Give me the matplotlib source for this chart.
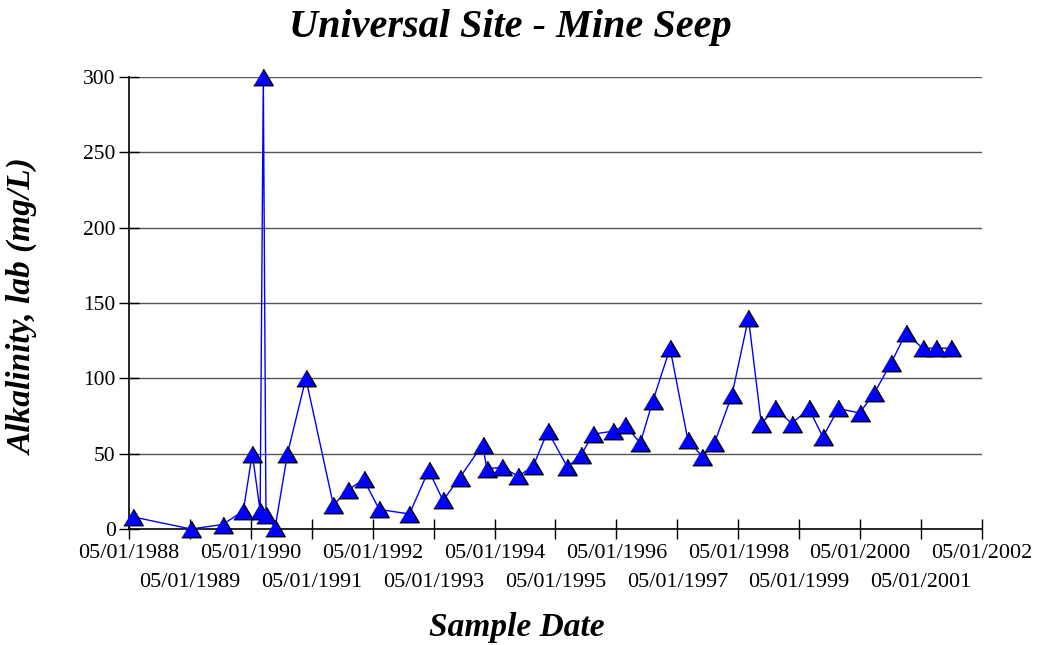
import numpy as np
import pandas as pd
import matplotlib
matplotlib.use('Agg')
import matplotlib.pyplot as plt

# sample dates and lab alkalinity (mg/L)
sample_dates = ['1988-05-27', '1989-05-08', '1989-11-14', '1990-03-17', '1990-05-10',
                '1990-06-26', '1990-07-15', '1990-07-31', '1990-09-24', '1990-12-07',
                '1991-03-27', '1991-09-08', '1991-12-06', '1992-03-07', '1992-06-09',
                '1992-12-07', '1993-04-01', '1993-06-26', '1993-10-04', '1994-02-18',
                '1994-03-16', '1994-06-17', '1994-09-21', '1994-12-20', '1995-03-16',
                '1995-07-12', '1995-09-30', '1995-12-14', '1996-04-13', '1996-06-22',
                '1996-09-20', '1996-12-05', '1997-03-18', '1997-07-03', '1997-09-28',
                '1997-12-09', '1998-03-24', '1998-07-01', '1998-09-16', '1998-12-08',
                '1999-03-18', '1999-06-28', '1999-09-20', '1999-12-22', '2000-04-27',
                '2000-07-23', '2000-11-01', '2001-01-30', '2001-05-10', '2001-07-31',
                '2001-10-28']
alkalinity = [8, 0, 3, 12, 50, 12, 300, 9, 1, 50,
              100, 16, 26, 33, 13, 10, 39, 19, 34, 56,
              40, 41, 35, 42, 65, 41, 49, 63, 65, 69,
              57, 85, 120, 59, 48, 57, 89, 140, 70, 80,
              70, 80, 61, 80, 77, 90, 110, 130, 120, 120,
              120]
upper_years = list(range(1988, 2003, 2))   # first row of date labels
lower_years = list(range(1989, 2002, 2))   # second row
y_ticks = [0, 50, 100, 150, 200, 250, 300]

plt.rcParams['font.family'] = ['Liberation Serif', 'DejaVu Serif']

dates = pd.to_datetime(sample_dates)
upper_dates = pd.to_datetime(['%d-05-01' % y for y in upper_years])
lower_dates = pd.to_datetime(['%d-05-01' % y for y in lower_years])

fig = plt.figure(figsize=(10.37, 6.45), dpi=100)
ax = fig.add_axes([0.1244, 0.1798, 0.8226, 0.7008])

tri = [(-1, -0.85), (1, -0.85), (0, 0.85)]
ax.plot(dates, alkalinity, color='#0000ff', lw=1, marker=tri, markersize=14,
        markerfacecolor='#0000ff', markeredgecolor='black', markeredgewidth=1,
        clip_on=False, zorder=3)

ax.set_xlim(upper_dates[0], upper_dates[-1])
ax.set_ylim(0, 300)
ax.set_xticks(upper_dates, ['05/01/%d' % y for y in upper_years])
ax.set_xticks(lower_dates, ['05/01/%d' % y for y in lower_years], minor=True)
ax.set_yticks(y_ticks)
ax.tick_params(axis='both', which='both', direction='inout', length=15, width=1,
               color='black')
ax.tick_params(axis='x', which='major', labelsize=16, pad=3)
ax.tick_params(axis='x', which='minor', labelsize=16, pad=24)
ax.tick_params(axis='y', labelsize=15.5, pad=2)

for v in y_ticks[1:]:
    ax.axhline(v, color='#555555', lw=1, zorder=1)

for s in ['top', 'right']:
    ax.spines[s].set_visible(False)
for s in ['left', 'bottom']:
    ax.spines[s].set_linewidth(1.2)
    ax.spines[s].set_color('black')

fig.text(0.492, 0.958, 'Universal Site - Mine Seep', ha='center', va='center',
         fontsize=29, fontweight='bold', fontstyle='italic')
fig.text(0.498, 0.027, 'Sample Date', ha='center', va='center',
         fontsize=24, fontweight='bold', fontstyle='italic')
fig.text(0.022, 0.524, 'Alkalinity, lab (mg/L)', ha='center', va='center',
         rotation=90, fontsize=24, fontweight='bold', fontstyle='italic')

fig.savefig('out.png', dpi=100)
